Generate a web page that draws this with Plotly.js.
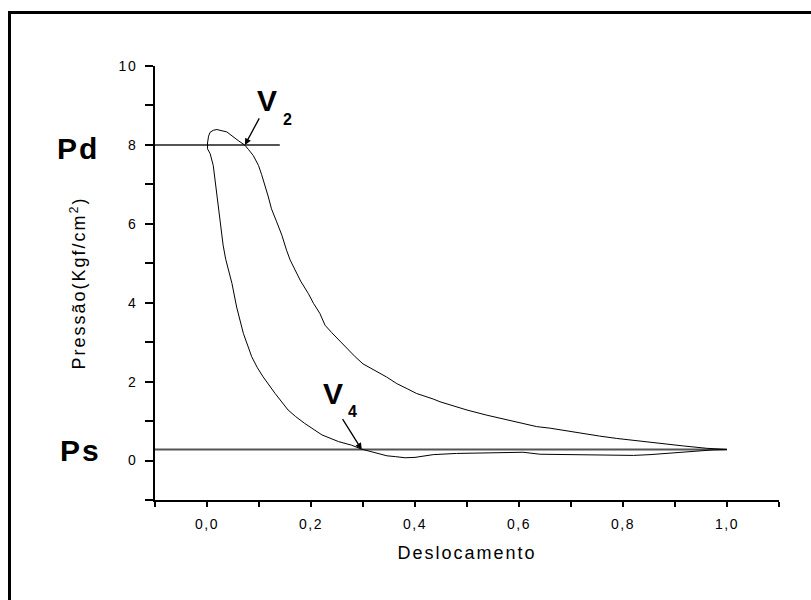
<!DOCTYPE html>
<html>
<head>
<meta charset="utf-8">
<script src="https://cdn.plot.ly/plotly-3.0.1.min.js"></script>
<style>
  html, body { margin: 0; padding: 0; background: #fff; }
  #wrap { position: relative; width: 811px; height: 600px; }
  #chart { position: absolute; left: 0; top: 0; width: 811px; height: 600px; }
  #frame { position: absolute; left: 8px; top: 11px; width: 803px; height: 589px;
           border-top: 3px solid #000; border-left: 3px solid #000; box-sizing: border-box; pointer-events: none; }
  .xtick text, .ytick text { letter-spacing: 1.5px; }
  .g-xtitle text, .g-ytitle text { letter-spacing: 2px; }
  .annotation-text { letter-spacing: 2px; }
</style>
</head>
<body>
<div id="wrap">
  <div id="chart"></div>
  <div id="frame"></div>
</div>
<script>
const displacement = [
  1.000, 0.974, 0.961, 0.916, 0.880, 0.852, 0.820, 0.788, 0.755, 0.724,
  0.690, 0.660, 0.634, 0.600, 0.570, 0.538, 0.500, 0.470, 0.448, 0.435,
  0.420, 0.403, 0.385, 0.365, 0.345, 0.323, 0.300, 0.285, 0.270, 0.253,
  0.240, 0.227, 0.217, 0.205, 0.195, 0.180, 0.169, 0.160, 0.153, 0.144,
  0.134, 0.124, 0.118, 0.112, 0.105, 0.099, 0.089, 0.080, 0.073, 0.060,
  0.048, 0.038, 0.025, 0.019, 0.012, 0.006, 0.003, 0.001, 0.001, 0.006,
  0.012, 0.016, 0.019, 0.025, 0.031, 0.036, 0.041, 0.048, 0.057, 0.070,
  0.086, 0.097, 0.108, 0.131, 0.156, 0.170, 0.188, 0.205, 0.221, 0.253,
  0.278, 0.297, 0.323, 0.346, 0.362, 0.381, 0.400, 0.435, 0.480, 0.525,
  0.570, 0.608, 0.640, 0.680, 0.724, 0.760, 0.788, 0.820, 0.852, 0.880,
  0.916, 0.950, 0.974, 1.000
];
const pressure = [
  0.28, 0.30, 0.31, 0.37, 0.42, 0.46, 0.51, 0.56, 0.62, 0.69,
  0.76, 0.82, 0.86, 0.96, 1.05, 1.15, 1.28, 1.40, 1.49, 1.56,
  1.63, 1.70, 1.82, 1.95, 2.12, 2.29, 2.45, 2.63, 2.83, 3.05,
  3.24, 3.43, 3.73, 3.98, 4.23, 4.55, 4.82, 5.08, 5.33, 5.71,
  6.05, 6.38, 6.68, 6.97, 7.25, 7.48, 7.73, 7.88, 7.99, 8.11,
  8.24, 8.33, 8.37, 8.39, 8.37, 8.32, 8.22, 8.05, 7.90, 7.78,
  7.48, 7.05, 6.64, 5.96, 5.46, 5.10, 4.85, 4.49, 3.89, 3.22,
  2.63, 2.35, 2.12, 1.70, 1.28, 1.12, 0.94, 0.78, 0.65, 0.48,
  0.39, 0.29, 0.21, 0.12, 0.10, 0.07, 0.08, 0.15, 0.18, 0.19,
  0.20, 0.21, 0.16, 0.15, 0.15, 0.14, 0.12, 0.13, 0.15, 0.18,
  0.21, 0.25, 0.27, 0.28
];

// Reference pressure lines
const pdLineX = [-0.1, 0.14];
const pdLineY = [8, 8];
const psLineX = [-0.1, 1.0];
const psLineY = [0.28, 0.28];

// Axis ticks
const xTickVals = [0, 0.2, 0.4, 0.6, 0.8, 1.0];
const xTickText = ['0,0', '0,2', '0,4', '0,6', '0,8', '1,0'];
const yTickVals = [0, 2, 4, 6, 8, 10];
const yTickText = ['0', '2', '4', '6', '8', '10'];

const FONT = 'Liberation Sans, Arial, Helvetica, sans-serif';

const traces = [
  { x: pdLineX, y: pdLineY, mode: 'lines', line: { color: '#555', width: 2 }, hoverinfo: 'skip', showlegend: false },
  { x: psLineX, y: psLineY, mode: 'lines', line: { color: '#555', width: 2 }, hoverinfo: 'skip', showlegend: false },
  { x: displacement, y: pressure, mode: 'lines', line: { color: '#000', width: 1 }, showlegend: false }
];

const axisCommon = {
  showgrid: false, zeroline: false, showline: true, linecolor: '#000', linewidth: 2,
  ticks: 'outside', tickcolor: '#000', tickwidth: 2,
  tickfont: { family: FONT, size: 14, color: '#000' },
  mirror: false, fixedrange: true
};

const layout = {
  width: 811, height: 600,
  margin: { l: 155, r: 32, t: 66, b: 100, pad: 0 },
  paper_bgcolor: '#fff', plot_bgcolor: '#fff',
  showlegend: false,
  font: { family: FONT, color: '#000' },
  xaxis: Object.assign({}, axisCommon, {
    range: [-0.1, 1.1], tickmode: 'array', tickvals: xTickVals, ticktext: xTickText,
    ticklen: 5, ticklabelstandoff: 5,
    minor: { dtick: 0.1, tick0: 0, ticks: 'outside', ticklen: 5, tickwidth: 2, tickcolor: '#000' },
    title: { text: 'Deslocamento', font: { family: FONT, size: 18, color: '#000' }, standoff: 16 }
  }),
  yaxis: Object.assign({}, axisCommon, {
    range: [-1, 10], tickmode: 'array', tickvals: yTickVals, ticktext: yTickText,
    ticklen: 8, ticklabelstandoff: 5,
    minor: { dtick: 1, tick0: 0, ticks: 'outside', ticklen: 8, tickwidth: 2, tickcolor: '#000' },
    title: { text: 'Pressão(Kgf/cm<sup>2</sup>)', font: { family: FONT, size: 18, color: '#000' }, standoff: 28 }
  }),
  annotations: [
    { text: '<b>Pd</b>', x: -0.1234, y: 0.809, xref: 'paper', yref: 'paper', showarrow: false,
      xanchor: 'center', yanchor: 'middle', font: { family: FONT, size: 30, color: '#000' } },
    { text: '<b>Ps</b>', x: -0.119, y: 0.115, xref: 'paper', yref: 'paper', showarrow: false,
      xanchor: 'center', yanchor: 'middle', font: { family: FONT, size: 30, color: '#000' } },
    { text: '<b>V</b>', x: 0.118, y: 9.12, xref: 'x', yref: 'y', showarrow: false,
      font: { family: FONT, size: 30, color: '#000' } },
    { text: '<b>2</b>', x: 0.156, y: 8.65, xref: 'x', yref: 'y', showarrow: false,
      font: { family: FONT, size: 16, color: '#000' } },
    { text: '<b>V</b>', x: 0.244, y: 1.69, xref: 'x', yref: 'y', showarrow: false,
      font: { family: FONT, size: 30, color: '#000' } },
    { text: '<b>4</b>', x: 0.281, y: 1.24, xref: 'x', yref: 'y', showarrow: false,
      font: { family: FONT, size: 16, color: '#000' } },
    { text: '', x: 0.073, y: 8.0, ax: 0.102, ay: 8.71, xref: 'x', yref: 'y', axref: 'x', ayref: 'y',
      showarrow: true, arrowhead: 2, arrowsize: 1, arrowwidth: 1.3, arrowcolor: '#000', standoff: 0, startstandoff: 0 },
    { text: '', x: 0.2975, y: 0.28, ax: 0.259, ay: 1.09, xref: 'x', yref: 'y', axref: 'x', ayref: 'y',
      showarrow: true, arrowhead: 2, arrowsize: 1, arrowwidth: 1.3, arrowcolor: '#000', standoff: 0, startstandoff: 0 }
  ]
};

Plotly.newPlot('chart', traces, layout, { displayModeBar: false, staticPlot: true });
</script>
</body>
</html>
